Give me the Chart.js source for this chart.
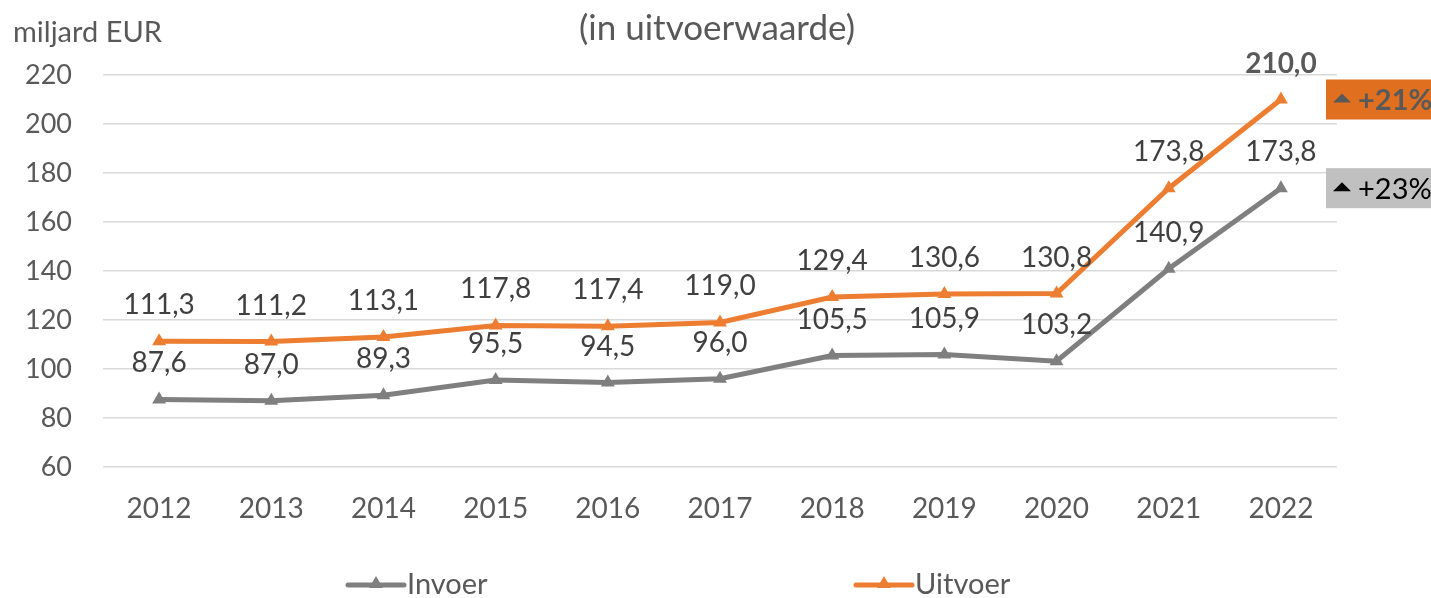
<!DOCTYPE html>
<html>
<head>
<meta charset="utf-8">
<script src="https://cdn.jsdelivr.net/npm/chart.js@4/dist/chart.umd.min.js"></script>
<style>
    html, body { margin: 0; padding: 0; background: #fff; }
    canvas { display: block; }
</style>
</head>
<body>
<canvas id="chart" width="1431" height="598"></canvas>
<script>
// 数据
const years = ['2012', '2013', '2014', '2015', '2016', '2017', '2018', '2019', '2020', '2021', '2022'];
const invoer = [87.6, 87.0, 89.3, 95.5, 94.5, 96.0, 105.5, 105.9, 103.2, 140.9, 173.8];
const uitvoer = [111.3, 111.2, 113.1, 117.8, 117.4, 119.0, 129.4, 130.6, 130.8, 173.8, 210.0];
const yTicks = [60, 80, 100, 120, 140, 160, 180, 200, 220];
const changeLabels = ['+23%', '+21%'];

const FONT = 'Lato, "Open Sans", sans-serif';
const GREY = '#7f7f7f';
const ORANGE = '#ed7d31';

const fmt = v => v.toFixed(1).replace('.', ',');

// 画三角形标记
function triangle(ctx, x, y, r, color) {
    ctx.save();
    ctx.fillStyle = color;
    ctx.beginPath();
    ctx.moveTo(x, y - r);
    ctx.lineTo(x + r * 0.866, y + r * 0.5);
    ctx.lineTo(x - r * 0.866, y + r * 0.5);
    ctx.closePath();
    ctx.fill();
    ctx.restore();
}

// 数据标签、标题、图例、变化标记
const decorPlugin = {
    id: 'decor',
    afterDatasetsDraw(chart) {
        const ctx = chart.ctx;
        const area = chart.chartArea;

        // 数据标签
        chart.data.datasets.forEach((ds, di) => {
            const meta = chart.getDatasetMeta(di);
            meta.data.forEach((pt, i) => {
                const last = di === 1 && i === ds.data.length - 1;
                ctx.save();
                ctx.font = (last ? 'bold ' : '') + '28px ' + FONT;
                ctx.fillStyle = last ? '#595959' : '#404040';
                ctx.textAlign = 'center';
                ctx.textBaseline = 'middle';
                ctx.fillText(fmt(ds.data[i]), pt.x, pt.y - 36);
                ctx.restore();
            });
        });

        // 变化标记
        chart.data.datasets.forEach((ds, di) => {
            const meta = chart.getDatasetMeta(di);
            const pt = meta.data[meta.data.length - 1];
            const x0 = area.right - 11;
            const h = 40;
            const y0 = pt.y - h / 2;
            const orange = di === 1;
            ctx.save();
            ctx.fillStyle = orange ? '#e07020' : '#c0c0c0';
            ctx.fillRect(x0, y0, chart.width - x0, h);
            const tc = orange ? '#595959' : '#000000';
            ctx.fillStyle = tc;
            ctx.beginPath();
            ctx.moveTo(x0 + 16, pt.y - 6);
            ctx.lineTo(x0 + 25, pt.y + 3);
            ctx.lineTo(x0 + 7, pt.y + 3);
            ctx.closePath();
            ctx.fill();
            ctx.font = (orange ? 'bold ' : '') + '29px ' + FONT;
            ctx.textAlign = 'left';
            ctx.textBaseline = 'middle';
            ctx.fillText(changeLabels[di], x0 + 32, pt.y + 1);
            ctx.restore();
        });

        // 标题和单位
        ctx.save();
        ctx.fillStyle = '#595959';
        ctx.textBaseline = 'middle';
        ctx.font = '35px ' + FONT;
        ctx.textAlign = 'center';
        ctx.fillText('(in uitvoerwaarde)', 717, 29);
        ctx.font = '29px ' + FONT;
        ctx.textAlign = 'left';
        ctx.fillText('miljard EUR', 13, 33);
        ctx.restore();

        // 图例
        const legendY = 585;
        const items = [
            { x: 348, ds: chart.data.datasets[0] },
            { x: 856, ds: chart.data.datasets[1] }
        ];
        items.forEach(item => {
            ctx.save();
            ctx.strokeStyle = item.ds.borderColor;
            ctx.lineWidth = 5;
            ctx.lineCap = 'round';
            ctx.beginPath();
            ctx.moveTo(item.x, legendY);
            ctx.lineTo(item.x + 56, legendY);
            ctx.stroke();
            triangle(ctx, item.x + 28, legendY - 1, 8, item.ds.borderColor);
            ctx.font = '29px ' + FONT;
            ctx.fillStyle = '#595959';
            ctx.textAlign = 'left';
            ctx.textBaseline = 'middle';
            ctx.fillText(item.ds.label, item.x + 59, legendY);
            ctx.restore();
        });
    }
};

new Chart(document.getElementById('chart').getContext('2d'), {
    type: 'line',
    data: {
        labels: years,
        datasets: [{
            label: 'Invoer',
            data: invoer,
            borderColor: GREY,
            backgroundColor: GREY,
            borderWidth: 5,
            pointStyle: 'triangle',
            pointRadius: 8,
            pointBorderWidth: 0,
            tension: 0
        }, {
            label: 'Uitvoer',
            data: uitvoer,
            borderColor: ORANGE,
            backgroundColor: ORANGE,
            borderWidth: 5,
            pointStyle: 'triangle',
            pointRadius: 8,
            pointBorderWidth: 0,
            tension: 0
        }]
    },
    options: {
        responsive: false,
        animation: false,
        layout: { padding: { top: 75, right: 94, left: 0, bottom: 0 } },
        plugins: {
            legend: { display: false },
            tooltip: { enabled: false }
        },
        scales: {
            x: {
                offset: true,
                grid: { display: false, drawTicks: false },
                border: { display: false },
                ticks: {
                    padding: 25,
                    color: '#595959',
                    font: { family: FONT, size: 28 }
                },
                afterFit(scale) { scale.height = 131; }
            },
            y: {
                min: 60,
                max: 220,
                grid: { color: '#d9d9d9', lineWidth: 1.5, drawTicks: false },
                border: { display: false },
                afterBuildTicks(scale) {
                    scale.ticks = yTicks.map(v => ({ value: v }));
                },
                ticks: {
                    padding: 31,
                    color: '#595959',
                    font: { family: FONT, size: 27 }
                },
                afterFit(scale) { scale.width = 103; }
            }
        }
    },
    plugins: [decorPlugin]
});
</script>
</body>
</html>
